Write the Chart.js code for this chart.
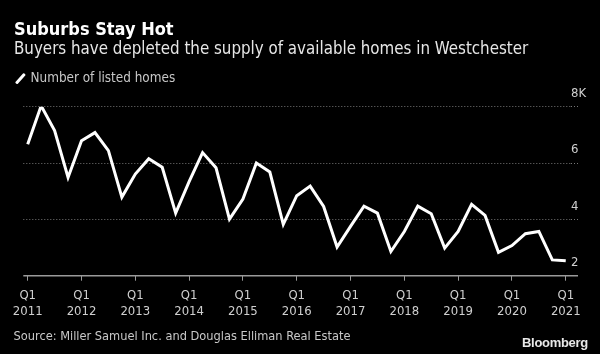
<!DOCTYPE html>
<html>
<head>
<meta charset="utf-8">
<script src="https://cdn.jsdelivr.net/npm/chart.js@4/dist/chart.umd.min.js"></script>
<style>
  html, body { margin: 0; padding: 0; background: #000; }
  #wrap { position: relative; width: 600px; height: 354px; background: #000; overflow: hidden;
          font-family: "DejaVu Sans Condensed", "DejaVu Sans", sans-serif; }
  .txt { position: absolute; line-height: 1; white-space: nowrap; }
  #title { left: 14px; top: 19.8px; font-size: 18px; font-weight: bold; color: #fff; }
  #subtitle { left: 14px; top: 40px; font-size: 16.8px; color: #e6e6e6; }
  #legend { left: 30.5px; top: 70.7px; font-size: 13.4px; color: #c8c8c8; }
  #legendIcon { position: absolute; left: 19px; top: 71.5px; width: 2.6px; height: 13px; background: #fff; transform: rotate(42deg); border-radius: 1px; }
  #source { left: 13.5px; top: 330.3px; font-size: 12.7px; color: #c8c8c8; }
  #brand { left: 522px; top: 336px; font-size: 13px; font-weight: bold; color: #e8e8e8;
           font-family: "Liberation Sans", Arial, sans-serif; letter-spacing: -0.3px; }
  canvas { position: absolute; left: 0; top: 0; }
</style>
</head>
<body>
<div id="wrap">
  <canvas id="chart" width="600" height="354"></canvas>
  <div class="txt" id="title">Suburbs Stay Hot</div>
  <div class="txt" id="subtitle">Buyers have depleted the supply of available homes in Westchester</div>
  <div id="legendIcon"></div>
  <div class="txt" id="legend">Number of listed homes</div>
  <div class="txt" id="source">Source: Miller Samuel Inc. and Douglas Elliman Real Estate</div>
  <div class="txt" id="brand">Bloomberg</div>
</div>
<script>
// quarterly listings, thousands, Q1 2011 .. Q1 2021
var listedHomes = [
    6.67, 8.03, 7.15, 5.49,
    6.79, 7.08, 6.44, 4.79,
    5.61, 6.15, 5.85, 4.22,
    5.34, 6.37, 5.83, 4.01,
    4.72, 6.00, 5.68, 3.82,
    4.84, 5.18, 4.46, 3.02,
    3.75, 4.47, 4.22, 2.86,
    3.57, 4.47, 4.20, 2.98,
    3.57, 4.53, 4.14, 2.83,
    3.07, 3.49, 3.57, 2.56,
    2.53
];
var years = ['2011', '2012', '2013', '2014', '2015', '2016', '2017', '2018', '2019', '2020', '2021'];
var yTicks = [2, 4, 6, 8];
var yTickLabels = ['2', '4', '6', '8K'];

var points = listedHomes.map(function(v, i) { return { x: i, y: v }; });
var tickFont = { family: '"DejaVu Sans Condensed", "DejaVu Sans", sans-serif', size: 13, lineHeight: 1.3 };

function isBase(c) { return c.tick && c.tick.value === 2; }

var ctx = document.getElementById('chart').getContext('2d');
var chart = new Chart(ctx, {
    type: 'line',
    data: {
        datasets: [{
            label: 'Number of listed homes',
            data: points,
            borderColor: '#ffffff',
            borderWidth: 3,
            pointRadius: 0,
            tension: 0,
            borderJoinStyle: 'miter'
        }]
    },
    options: {
        responsive: false,
        animation: false,
        layout: { padding: { left: 23.3, top: 106.7, right: 0, bottom: 33.3 } },
        plugins: { legend: { display: false }, tooltip: { enabled: false } },
        scales: {
            x: {
                type: 'linear',
                min: -0.327,
                max: 40.39,
                afterBuildTicks: function(scale) {
                    scale.ticks = years.map(function(y, i) { return { value: i * 4 }; });
                },
                afterFit: function(scale) { scale.height = 45; },
                grid: { drawOnChartArea: false, drawTicks: true, tickLength: 5, color: '#9a9a9a', lineWidth: 1 },
                border: { display: false },
                ticks: {
                    color: '#cfcfcf',
                    font: tickFont,
                    padding: 6,
                    maxRotation: 0,
                    autoSkip: false,
                    callback: function(v) { return ['Q1', years[v / 4]]; }
                }
            },
            y: {
                position: 'right',
                min: 2,
                max: 8,
                afterBuildTicks: function(scale) {
                    scale.ticks = yTicks.map(function(v) { return { value: v }; });
                },
                afterFit: function(scale) { scale.width = 29; },
                grid: {
                    drawTicks: true,
                    tickLength: 7,
                    lineWidth: function(c) { return isBase(c) ? 1.5 : 1; },
                    tickWidth: function(c) { return isBase(c) ? 1.5 : 1; },
                    color: function(c) { return isBase(c) ? '#9a9a9a' : '#777777'; },
                    tickColor: function(c) { return isBase(c) ? '#9a9a9a' : '#777777'; },
                    tickBorderDash: function(c) { return isBase(c) ? [] : [1, 2]; }
                },
                border: { display: false, dash: function(c) { return isBase(c) ? [] : [1, 2]; } },
                ticks: {
                    color: '#cfcfcf',
                    font: tickFont,
                    padding: -7,
                    labelOffset: -13,
                    callback: function(v) { return yTickLabels[yTicks.indexOf(v)]; }
                }
            }
        }
    }
});
</script>
</body>
</html>
